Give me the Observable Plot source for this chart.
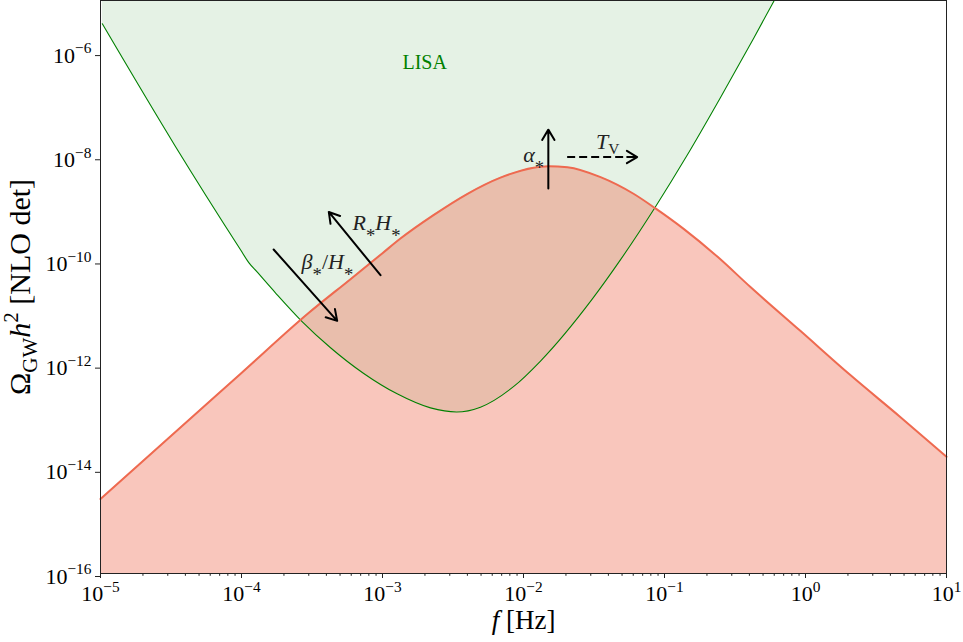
<!DOCTYPE html>
<html>
<head>
<meta charset="utf-8">
<script src="https://cdn.jsdelivr.net/npm/d3@7"></script>
<script src="https://cdn.jsdelivr.net/npm/@observablehq/plot@0.6"></script>
<style>
  body { margin: 0; background: #fff; }
  svg { display: block; }
</style>
</head>
<body>
<div id="chart"></div>
<script>
// GW spectrum of a phase transition (NLO, detonation) against the LISA sensitivity band.

// Signal spectrum Omega_GW h^2 (f)
const signalFreq = [1.0e-5, 3.13e-5, 1.0e-4, 2.99e-4, 5.93e-4, 1.0e-3, 1.34e-3, 2.30e-3, 4.01e-3,
  6.87e-3, 1.18e-2, 1.50e-2, 2.05e-2, 3.52e-2, 6.03e-2, 8.63e-2, 1.36e-1, 2.38e-1, 4.07e-1,
  9.23e-1, 2.08, 4.72, 10];
const signalOmega = [2.69e-15, 4.27e-14, 7.08e-13, 1.0e-11, 4.47e-11, 1.41e-10, 2.69e-10, 7.59e-10,
  1.95e-9, 3.98e-9, 6.17e-9, 6.61e-9, 6.31e-9, 4.07e-9, 1.95e-9, 1.02e-9, 4.17e-10, 1.20e-10,
  3.16e-11, 4.50e-12, 6.44e-13, 1.0e-13, 1.74e-14];

// LISA power-law sensitivity curve
const lisaFreq = [1.03e-5, 3.40e-5, 9.84e-5, 1.13e-4, 1.28e-4, 1.74e-4, 2.69e-4, 4.28e-4, 7.36e-4,
  1.27e-3, 2.19e-3, 3.35e-3, 4.95e-3, 8.53e-3, 1.32e-2, 3.07e-2, 4.88e-2, 8.63e-2, 1.45e-1,
  2.49e-1, 4.30e-1, 6.00e-1];
const lisaOmega = [3.57e-6, 1.58e-8, 1.64e-10, 9.18e-11, 6.28e-11, 2.45e-11, 6.87e-12, 2.16e-12,
  6.92e-13, 2.81e-13, 1.51e-13, 1.26e-13, 1.56e-13, 3.90e-13, 1.20e-12, 1.85e-11, 1.06e-10,
  1.10e-9, 1.08e-8, 1.36e-7, 1.91e-6, 1.0e-5];

// Axes
const xDomain = [1e-5, 1e1];
const yDomain = [1e-16, 1e-5];
const xTicks = [1e-5, 1e-4, 1e-3, 1e-2, 1e-1, 1e0, 1e1];
const yTicks = [1e-16, 1e-14, 1e-12, 1e-10, 1e-8, 1e-6];
const xMinorTicks = d3.range(-5, 1).flatMap(k => d3.range(2, 10).map(m => m * 10 ** k));

// Parameter-dependence arrows: how the peak moves when each parameter grows
const arrowNames = ["beta", "RH", "alpha", "TV"];
const arrowX1 = [1.69e-4, 9.68e-4, 1.50e-2, 2.04e-2];
const arrowY1 = [1.66e-10, 5.33e-11, 2.45e-9, 9.89e-9];
const arrowX2 = [4.77e-4, 4.16e-4, 1.50e-2, 6.40e-2];
const arrowY2 = [7.08e-12, 8.73e-10, 3.32e-8, 9.89e-9];
const arrowDashed = [false, false, false, true];

// Labels (|..| italic, _{..} subscript, ^{..} superscript)
const noteText = ["|β|_{*}/|H|_{*}", "|R|_{*}|H|_{*}", "|α|_{*}", "|T|_{V}"];
const noteX = [4.07e-4, 9.06e-4, 1.18e-2, 3.95e-2];
const noteY = [9.46e-11, 5.30e-10, 1.07e-8, 1.89e-8];
const lisaLabel = {text: "LISA", f: 1.99e-3, omega: 6.47e-7};
const xLabel = "|f| [Hz]";
const yLabel = "Ω_{GW}|h|^{2} [NLO det]";

const signal = signalFreq.map((f, i) => ({f, omega: signalOmega[i]}));
const lisa = lisaFreq.map((f, i) => ({f, omega: lisaOmega[i]}));
const arrows = arrowNames.map((name, i) => ({
  name, x1: arrowX1[i], y1: arrowY1[i], x2: arrowX2[i], y2: arrowY2[i], dashed: arrowDashed[i]
}));
const notes = noteText.map((text, i) => ({text, x: noteX[i], y: noteY[i]}));

const signalColor = "#ee6a50";
const lisaColor = "#008000";
const powerLabel = d => `10^{${String(Math.round(Math.log10(d))).replace("-", "−")}}`;

const chart = Plot.plot({
  width: 963,
  height: 642,
  marginLeft: 100,
  marginRight: 17,
  marginTop: 0,
  marginBottom: 69,
  x: {type: "log", domain: xDomain, label: null},
  y: {type: "log", domain: yDomain, label: null},
  style: {fontFamily: "'Liberation Serif', serif", color: "black", background: "white"},
  marks: [
    Plot.areaY(lisa, {x: "f", y1: "omega", y2: yDomain[1], fill: lisaColor, fillOpacity: 0.1, curve: "monotone-x"}),
    Plot.areaY(signal, {x: "f", y1: yDomain[0], y2: "omega", fill: signalColor, fillOpacity: 0.38, curve: "monotone-x"}),
    Plot.line(lisa, {x: "f", y: "omega", stroke: lisaColor, strokeWidth: 1.1, curve: "monotone-x"}),
    Plot.line(signal, {x: "f", y: "omega", stroke: signalColor, strokeWidth: 2, curve: "monotone-x"}),
    Plot.frame({stroke: "#222", strokeWidth: 1}),
    Plot.axisX(xMinorTicks, {tickSize: 2.8, fill: "none", label: null, stroke: "#222"}),
    Plot.axisX(xTicks, {tickSize: 5, tickPadding: 7, fontSize: 22, tickFormat: powerLabel, label: null, stroke: "#222"}),
    Plot.axisY(yTicks, {tickSize: 5, tickPadding: 4, fontSize: 22, dy: 3, tickFormat: powerLabel, label: null, stroke: "#222"}),
    Plot.arrow(arrows.filter(d => !d.dashed), {
      x1: "x1", y1: "y1", x2: "x2", y2: "y2", stroke: "black", strokeWidth: 2, headLength: 9, headAngle: 62
    }),
    Plot.link(arrows.filter(d => d.dashed), {
      x1: "x1", y1: "y1", x2: "x2", y2: "y2", stroke: "black", strokeWidth: 2, strokeDasharray: "8,4"
    }),
    Plot.arrow(arrows.filter(d => d.dashed), {
      x1: "x1", y1: "y1", x2: "x2", y2: "y2", stroke: "black", strokeWidth: 2, headLength: 9, headAngle: 62, insetStart: 60
    }),
    Plot.text(notes, {x: "x", y: "y", text: "text", fontSize: 22, fill: "#222"}),
    Plot.text([lisaLabel], {x: "f", y: "omega", text: "text", fontSize: 20, fill: lisaColor}),
    Plot.text([xLabel], {frameAnchor: "bottom", textAnchor: "middle", lineAnchor: "middle", dy: 47, text: d => d, fontSize: 27}),
    Plot.text([yLabel], {frameAnchor: "left", textAnchor: "middle", lineAnchor: "middle", dx: -80, rotate: -90, text: d => d, fontSize: 30, letterSpacing: "0.5px"})
  ]
});

document.getElementById("chart").appendChild(chart);

// Turn the small markup in labels into tspans (italic, subscripts, superscripts)
function richText(svg) {
  const ns = "http://www.w3.org/2000/svg";
  svg.querySelectorAll("text").forEach(t => {
    const s = t.textContent;
    if (!/[\^_|]/.test(s)) return;
    const fs = parseFloat(getComputedStyle(t).fontSize) || 20;
    const parts = s.split(/(\^\{[^}]*\}|_\{[^}]*\}|\|[^|]*\|)/).filter(p => p !== "");
    while (t.firstChild) t.removeChild(t.firstChild);
    let shift = 0;
    for (const p of parts) {
      const ts = document.createElementNS(ns, "tspan");
      let txt = p, target = 0, size = null, style = "normal";
      if (p.startsWith("^{")) { txt = p.slice(2, -1); target = -0.42 * fs; size = 0.7 * fs; }
      else if (p.startsWith("_{")) {
        txt = p.slice(2, -1);
        if (txt === "*") {
          // the asterisk glyph sits high, so it is lowered further than a letter
          target = 0.53 * fs; size = 0.85 * fs;
        } else {
          target = 0.22 * fs; size = 0.7 * fs;
        }
      }
      else if (p.startsWith("|")) { txt = p.slice(1, -1); style = "italic"; }
      if (target !== shift) { ts.setAttribute("dy", (target - shift).toFixed(2)); shift = target; }
      if (size) ts.setAttribute("font-size", size.toFixed(2));
      ts.setAttribute("font-style", style);
      ts.textContent = txt;
      t.appendChild(ts);
    }
  });
}
richText(chart);
</script>
</body>
</html>
